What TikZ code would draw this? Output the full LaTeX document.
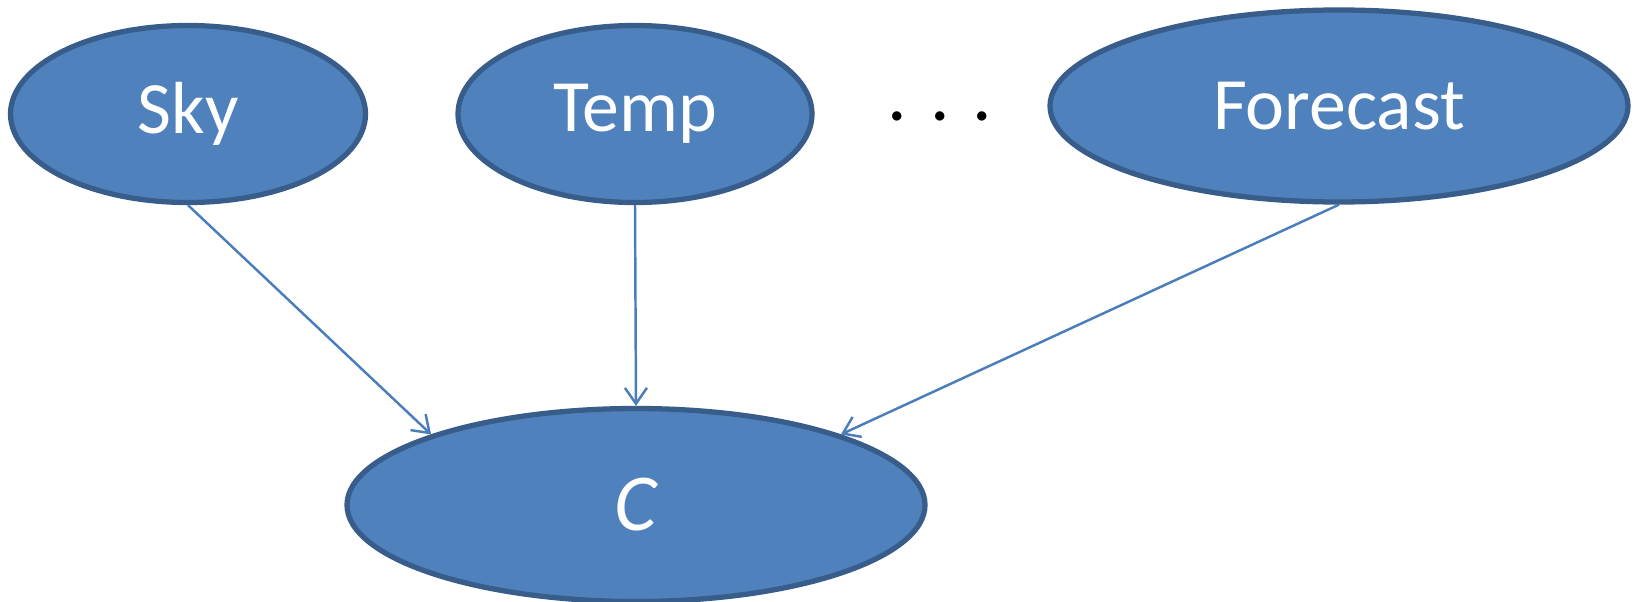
\documentclass[tikz,border=0pt]{standalone}
\usepackage{fontspec}
\setmainfont{Carlito}
\usepackage{tikz}
\usetikzlibrary{arrows.meta, positioning, shapes.geometric}
\definecolor{nodefill}{RGB}{79,129,189}
\definecolor{nodeline}{RGB}{56,93,138}
\definecolor{edgeline}{RGB}{74,126,187}
\tikzstyle{var}=[ellipse, fill=nodefill, draw=nodeline, line width=3pt, inner sep=0pt, text=white, font=\fontsize{42}{50}\selectfont]
\tikzstyle{edge}=[draw=edgeline, line width=1.4pt, -{Straight Barb[length=9pt,width=12.5pt]}]

\begin{document}
\begin{tikzpicture}
\useasboundingbox (0,0) rectangle (32.74,-12.04);

\node[var, minimum width=7.1cm,  minimum height=3.54cm] (sky)      at (3.76,-2.28)  {Sky};
\node[var, minimum width=7.08cm, minimum height=3.54cm] (temp)     at (12.70,-2.28) {Temp};
\node[var, minimum width=11.56cm, minimum height=3.84cm] (forecast) at (26.78,-2.12) {Forecast};
\node[var, minimum width=11.56cm, minimum height=3.86cm] (c)        at (12.72,-10.10) {\fontsize{46}{50}\selectfont\textit{C}};

\node[anchor=base, font=\fontsize{44}{50}\selectfont] (dots) at (18.80,-2.42) {. . .};

\draw[edge] (sky.south) -- (c.161);
\draw[edge] (temp.south) -- (c.north);
\draw[edge] (forecast.south) -- (c.19);
\end{tikzpicture}
\end{document}
